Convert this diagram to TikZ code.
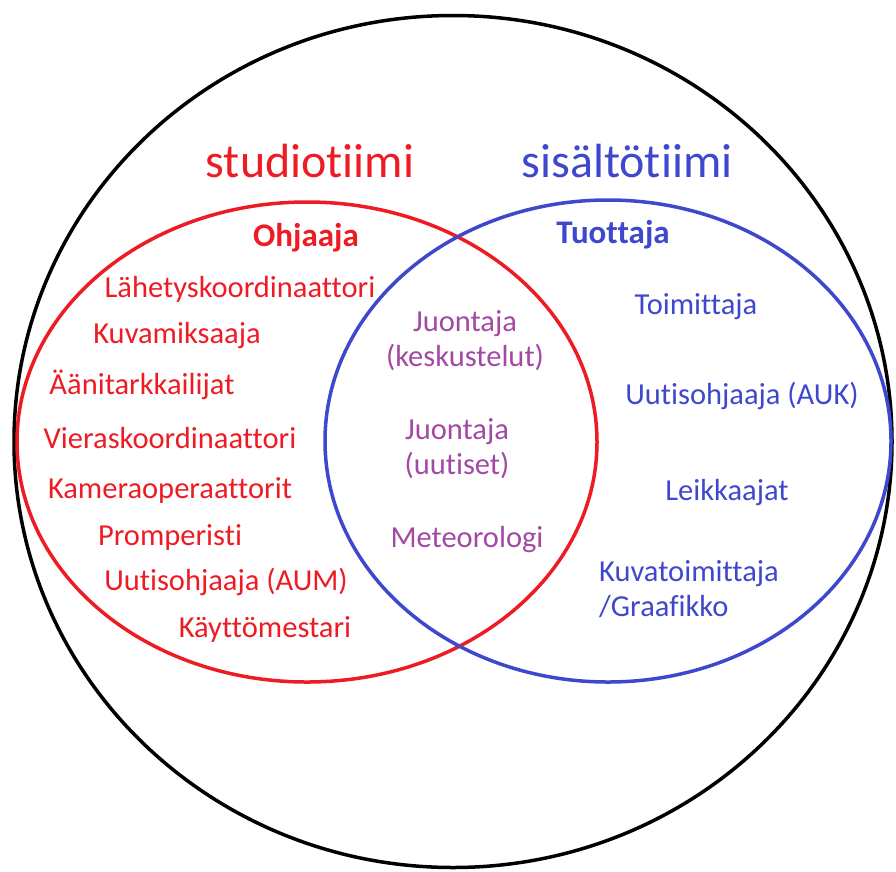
\documentclass[tikz,border=0pt]{standalone}
\usepackage{fontspec}
\setmainfont{Carlito}[Ligatures=NoCommon]
\definecolor{vred}{HTML}{ED1C24}
\definecolor{vblue}{HTML}{3F48CC}
\definecolor{vpurple}{HTML}{A349A4}
\begin{document}
\begin{tikzpicture}[x=1pt,y=-1pt,
  lbl/.style={inner sep=0pt, font=\fontsize{30.5}{35}\selectfont},
  redl/.style={lbl, text=vred},
  bluel/.style={lbl, text=vblue},
  purl/.style={lbl, text=vpurple, align=center},
  title/.style={inner sep=0pt, font=\fontsize{48}{54}\selectfont},
  head/.style={inner sep=0pt, font=\fontsize{33}{36}\selectfont\bfseries}]
\useasboundingbox (0,0) rectangle (896,871);
\draw[line width=3.5pt, black] (453,441.5) ellipse [x radius=439, y radius=426];
\draw[line width=3.5pt, vred] (307,442) ellipse [x radius=290, y radius=240];
\draw[line width=3.5pt, vblue] (608,441) ellipse [x radius=283, y radius=241];
\node[title, text=vred] (st) at (310,161) {studiotiimi};
\node[title, text=vblue] (si) at (627,161) {sisältötiimi};
\node[head, text=vred] (oh) at (306,238) {Ohjaaja};
\node[head, text=vblue] (tu) at (613,235) {Tuottaja};
\node[redl] (r1) at (240,289) {Lähetyskoordinaattori};
\node[redl] (r2) at (177,336) {Kuvamiksaaja};
\node[redl] (r3) at (142,385) {Äänitarkkailijat};
\node[redl] (r4) at (170,438) {Vieraskoordinaattori};
\node[redl] (r5) at (170,490) {Kameraoperaattorit};
\node[redl] (r6) at (170,537) {Promperisti};
\node[redl] (r7) at (226,582) {Uutisohjaaja (AUM)};
\node[redl] (r8) at (265,629) {Käyttömestari};
\node[purl] (p1) at (465,341) {Juontaja\\(keskustelut)};
\node[purl] (p2) at (457,449) {Juontaja\\(uutiset)};
\node[purl] (p3) at (467,540) {Meteorologi};
\node[bluel] (b1) at (696,307) {Toimittaja};
\node[bluel] (b2) at (742,396) {Uutisohjaaja (AUK)};
\node[bluel] (b3) at (727,493) {Leikkaajat};
\node[bluel, align=left, anchor=west] (b4) at (599,589) {Kuvatoimittaja\\/Graafikko};
\end{tikzpicture}
\end{document}
